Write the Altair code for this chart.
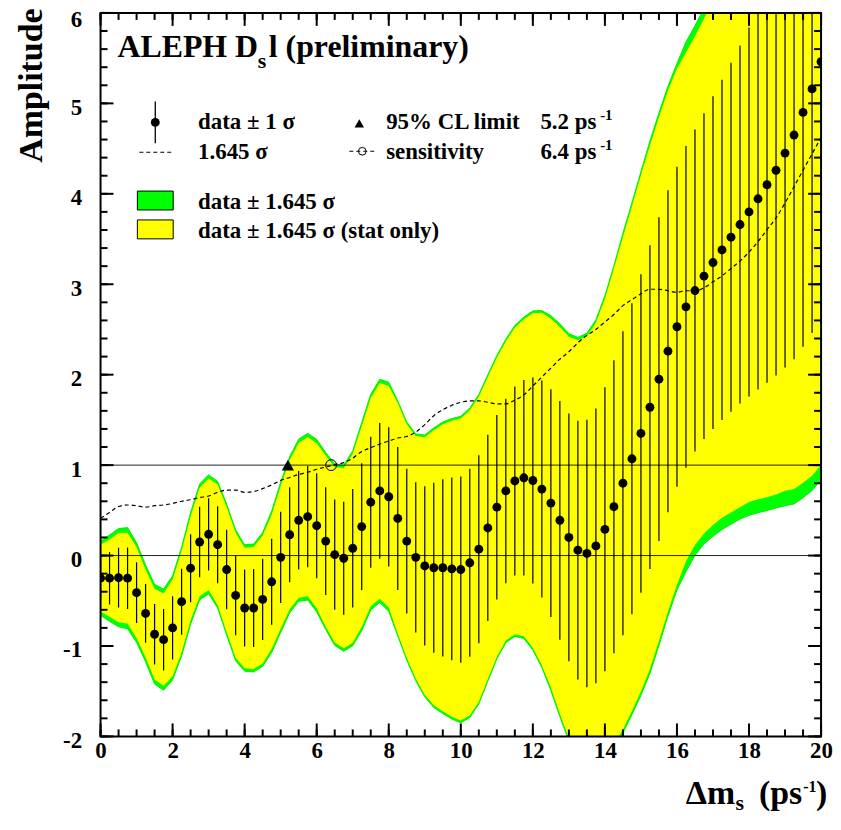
import altair as alt
import pandas as pd

FONT = "Liberation Serif"
W, H = 724, 727

# scan points (ps^-1)
dms = [0.0, 0.25, 0.5, 0.75, 1.0, 1.25, 1.5, 1.75, 2.0, 2.25, 2.5, 2.75, 3.0, 3.25, 3.5, 3.75,
       4.0, 4.25, 4.5, 4.75, 5.0, 5.25, 5.5, 5.75, 6.0, 6.25, 6.5, 6.75, 7.0, 7.25, 7.5, 7.75,
       8.0, 8.25, 8.5, 8.75, 9.0, 9.25, 9.5, 9.75, 10.0, 10.25, 10.5, 10.75, 11.0, 11.25, 11.5, 11.75,
       12.0, 12.25, 12.5, 12.75, 13.0, 13.25, 13.5, 13.75, 14.0, 14.25, 14.5, 14.75, 15.0, 15.25, 15.5, 15.75,
       16.0, 16.25, 16.5, 16.75, 17.0, 17.25, 17.5, 17.75, 18.0, 18.25, 18.5, 18.75, 19.0, 19.25, 19.5, 19.75, 20.0]
# measured amplitude
amp = [-0.25, -0.25, -0.245, -0.25, -0.41, -0.64, -0.87, -0.93, -0.80, -0.51, -0.14, 0.15, 0.235, 0.12, -0.155, -0.44,
       -0.58, -0.58, -0.485, -0.29, -0.02, 0.23, 0.39, 0.43, 0.33, 0.16, 0.01, -0.03, 0.08, 0.32, 0.59, 0.715,
       0.65, 0.41, 0.16, -0.02, -0.115, -0.135, -0.135, -0.147, -0.155, -0.08, 0.07, 0.305, 0.535, 0.715, 0.825, 0.86,
       0.83, 0.735, 0.58, 0.39, 0.20, 0.06, 0.023, 0.107, 0.29, 0.54, 0.80, 1.07, 1.35, 1.64, 1.95, 2.26,
       2.53, 2.75, 2.93, 3.09, 3.24, 3.38, 3.52, 3.66, 3.80, 3.945, 4.10, 4.26, 4.45, 4.65, 4.90, 5.16, 5.46]
# total uncertainty (1 sigma)
sig_tot = [0.25, 0.29, 0.33, 0.34, 0.335, 0.325, 0.335, 0.34, 0.35, 0.365, 0.375, 0.39, 0.40, 0.425, 0.44, 0.44,
           0.425, 0.43, 0.45, 0.475, 0.505, 0.525, 0.545, 0.56, 0.58, 0.595, 0.61, 0.625, 0.655, 0.70, 0.725, 0.75,
           0.77, 0.79, 0.80, 0.83, 0.88, 0.94, 0.98, 1.01, 1.03, 1.04, 1.04, 1.03, 1.02, 1.02, 1.045, 1.08,
           1.14, 1.20, 1.26, 1.32, 1.37, 1.43, 1.48, 1.52, 1.57, 1.62, 1.68, 1.72, 1.76, 1.79, 1.79, 1.78,
           1.77, 1.78, 1.78, 1.80, 1.84, 1.88, 1.93, 1.98, 2.04, 2.11, 2.19, 2.27, 2.37, 2.48, 2.59, 2.70, 2.81]
# statistical uncertainty only (1 sigma)
sig_stat = [0.225, 0.26, 0.30, 0.305, 0.305, 0.295, 0.305, 0.31, 0.325, 0.34, 0.35, 0.365, 0.375, 0.405, 0.42, 0.42,
            0.405, 0.41, 0.43, 0.45, 0.48, 0.50, 0.52, 0.535, 0.555, 0.575, 0.59, 0.605, 0.635, 0.675, 0.70, 0.725,
            0.745, 0.775, 0.785, 0.815, 0.865, 0.925, 0.965, 0.995, 1.015, 1.025, 1.025, 1.015, 1.005, 1.005, 1.03, 1.065,
            1.125, 1.185, 1.24, 1.30, 1.35, 1.41, 1.46, 1.50, 1.55, 1.60, 1.655, 1.695, 1.735, 1.76, 1.76, 1.75,
            1.735, 1.71, 1.71, 1.73, 1.765, 1.80, 1.85, 1.90, 1.95, 2.02, 2.10, 2.18, 2.27, 2.38, 2.49, 2.60, 2.71]

limit_dms = [5.2]
limit_amp = [1.0]
sens_dms = [6.4]
sens_amp = [1.0]
ref_lines = [0, 1]

x_labels = [0, 2, 4, 6, 8, 10, 12, 14, 16, 18, 20]
y_labels = [-2, -1, 0, 1, 2, 3, 4, 5, 6]
x_minor = [i * 0.5 for i in range(41)]
y_minor = [round(-2 + i * 0.2, 2) for i in range(41)]

K = 1.645
df = pd.DataFrame({"dms": dms, "amp": amp, "st": sig_tot, "ss": sig_stat})
df["e_lo"] = df.amp - df.st
df["e_hi"] = df.amp + df.st
df["g_lo"] = df.amp - K * df.st
df["g_hi"] = df.amp + K * df.st
df["y_lo"] = df.amp - K * df.ss
df["y_hi"] = df.amp + K * df.ss
df["dash"] = K * df.st

xs = alt.Scale(domain=[0, 20], nice=False, zero=False)
ys = alt.Scale(domain=[-2, 6], nice=False, zero=False)

x_axis = alt.Axis(values=x_labels, title=None, grid=False, ticks=False, tickSize=0, domain=False,
                  labelFont=FONT, labelFontWeight="bold", labelFontSize=23, labelColor="black",
                  labelPadding=3, labelFlush=False, labelOverlap=False, format="d")
y_axis = alt.Axis(values=y_labels, title=None, grid=False, ticks=False, tickSize=0, domain=False,
                  labelFont=FONT, labelFontWeight="bold", labelFontSize=23, labelColor="black",
                  labelPadding=19, labelFlush=False, labelOverlap=False,
                  labelOffset={"condition": {"test": "datum.value == 6", "value": 7}, "value": 4},
                  labelExpr="datum.value < 0 ? '-' + abs(datum.value) : '' + datum.value")


def X(f):
    return alt.X(f, scale=xs, axis=x_axis, title=None)


def Y(f):
    return alt.Y(f, scale=ys, axis=y_axis, title=None)


base = alt.Chart(df)

green = base.mark_area(color="#00FF00", stroke="#00EE00", strokeWidth=1, clip=True).encode(
    x=X("dms:Q"), y=Y("g_lo:Q"), y2="g_hi:Q")
yellow = base.mark_area(color="#FFFF00", clip=True).encode(
    x=X("dms:Q"), y=Y("y_lo:Q"), y2="y_hi:Q")

hlines = alt.Chart(pd.DataFrame({"r": ref_lines})).mark_rule(color="#222222", strokeWidth=1).encode(
    y=Y("r:Q"))

dashed = base.mark_line(color="black", strokeWidth=1.2, strokeDash=[4, 3], interpolate="monotone", clip=True).encode(
    x=X("dms:Q"), y=Y("dash:Q"))

ebars = base.mark_rule(color="black", strokeWidth=1.2, clip=True).encode(
    x=X("dms:Q"), y=Y("e_lo:Q"), y2="e_hi:Q")

points = base.mark_circle(color="black", size=80, opacity=1, clip=True).encode(
    x=X("dms:Q"), y=Y("amp:Q"))

limit = alt.Chart(pd.DataFrame({"x": limit_dms, "y": limit_amp})).mark_point(
    shape="triangle-up", filled=True, color="black", size=150, opacity=1).encode(
    x=X("x:Q"), y=Y("y:Q"))

sens = alt.Chart(pd.DataFrame({"x": sens_dms, "y": sens_amp})).mark_point(
    shape="circle", filled=False, color="black", size=120, strokeWidth=1, opacity=1).encode(
    x=X("x:Q"), y=Y("y:Q"))

one = pd.DataFrame({"a": [0]})


def txt(s, x, y, size, align="left", angle=0):
    return alt.Chart(one).mark_text(text=s, align=align, baseline="alphabetic", fontSize=size,
                                    font=FONT, fontWeight="bold", angle=angle, color="black").encode(
        x=alt.value(x), y=alt.value(y))


def vrule(x, y1, y2, w=1.3, dash=None):
    kw = dict(color="black", strokeWidth=w)
    if dash:
        kw["strokeDash"] = dash
    return alt.Chart(one).mark_rule(**kw).encode(x=alt.value(x), y=alt.value(y1), y2=alt.value(y2))


def hrule(x1, x2, y, w=1.2, dash=None):
    kw = dict(color="black", strokeWidth=w)
    if dash:
        kw["strokeDash"] = dash
    return alt.Chart(one).mark_rule(**kw).encode(x=alt.value(x1), x2=alt.value(x2), y=alt.value(y))


def box(x1, x2, y1, y2, fill):
    return alt.Chart(one).mark_rect(fill=fill, stroke="black", strokeWidth=1).encode(
        x=alt.value(x1), x2=alt.value(x2), y=alt.value(y1), y2=alt.value(y2))


def sym(x, y, shape, size, filled):
    return alt.Chart(one).mark_point(shape=shape, filled=filled, color="black", size=size,
                                     strokeWidth=1, opacity=1).encode(x=alt.value(x), y=alt.value(y))


legend = [
    vrule(55, 89, 131),
    sym(55, 110, "circle", 80, True),
    txt("data ± 1 σ", 98, 117, 23),
    hrule(39, 74, 140, dash=[4, 3]),
    txt("1.645 σ", 98, 147, 23),
    box(37, 73, 179, 198, "#00FF00"),
    txt("data ± 1.645 σ", 98, 197, 23),
    box(37, 73, 208, 227, "#FFFF00"),
    txt("data ± 1.645 σ (stat only)", 98, 226, 23),
    sym(260, 111, "triangle-up", 90, True),
    txt("95% CL limit", 287, 117, 23),
    txt("5.2 ps", 442, 117, 23),
    txt("-1", 502, 108, 15),
    hrule(250, 276, 139, w=1, dash=[4, 3]),
    sym(263, 139, "circle", 60, False),
    txt("sensitivity", 287, 147, 23),
    txt("6.4 ps", 442, 147, 23),
    txt("-1", 502, 138, 15),
]

titles = [
    txt("ALEPH D", 17, 44, 32),
    txt("s", 158, 55, 22),
    txt("l (preliminary)", 169, 44, 32),
    txt("Amplitude", -59, 73, 34, align="center", angle=270),
    txt("Δm", 588, 795, 34),
    txt("s", 638, 801, 22),
    txt("(ps", 705, 795, 34, align="right"),
    txt("-1", 706, 783, 16),
    txt(")", 719, 795, 34),
]


def xticks(vals, L):
    d = pd.DataFrame({"t": vals})
    bot = alt.Chart(d).mark_rule(color="black", strokeWidth=2).encode(
        x=X("t:Q"), y=alt.value(H), y2=alt.value(H - L))
    top = alt.Chart(d).mark_rule(color="black", strokeWidth=2).encode(
        x=X("t:Q"), y=alt.value(0), y2=alt.value(L))
    return [bot, top]


def yticks(vals, L):
    d = pd.DataFrame({"t": vals})
    lef = alt.Chart(d).mark_rule(color="black", strokeWidth=2).encode(
        y=Y("t:Q"), x=alt.value(0), x2=alt.value(L))
    rig = alt.Chart(d).mark_rule(color="black", strokeWidth=2).encode(
        y=Y("t:Q"), x=alt.value(W), x2=alt.value(W - L))
    return [lef, rig]


ticks = xticks(x_minor, 7) + xticks(x_labels, 13) + yticks(y_minor, 7) + yticks(y_labels, 13)

frame = alt.Chart(one).mark_rect(fillOpacity=0, stroke="black", strokeWidth=2).encode(
    x=alt.value(0), x2=alt.value(W), y=alt.value(0), y2=alt.value(H))

chart = alt.layer(
    green, yellow, hlines, dashed, ebars, points, limit, sens,
    *legend, *ticks, frame, *titles
).properties(
    width=W, height=H,
    autosize=alt.AutoSizeParams(type="none"),
    padding={"left": 93, "top": 3, "right": 12, "bottom": 78},
    background="white",
).configure_view(strokeWidth=0)

chart.save("out.html", embed_options={"renderer": "svg", "actions": False})
